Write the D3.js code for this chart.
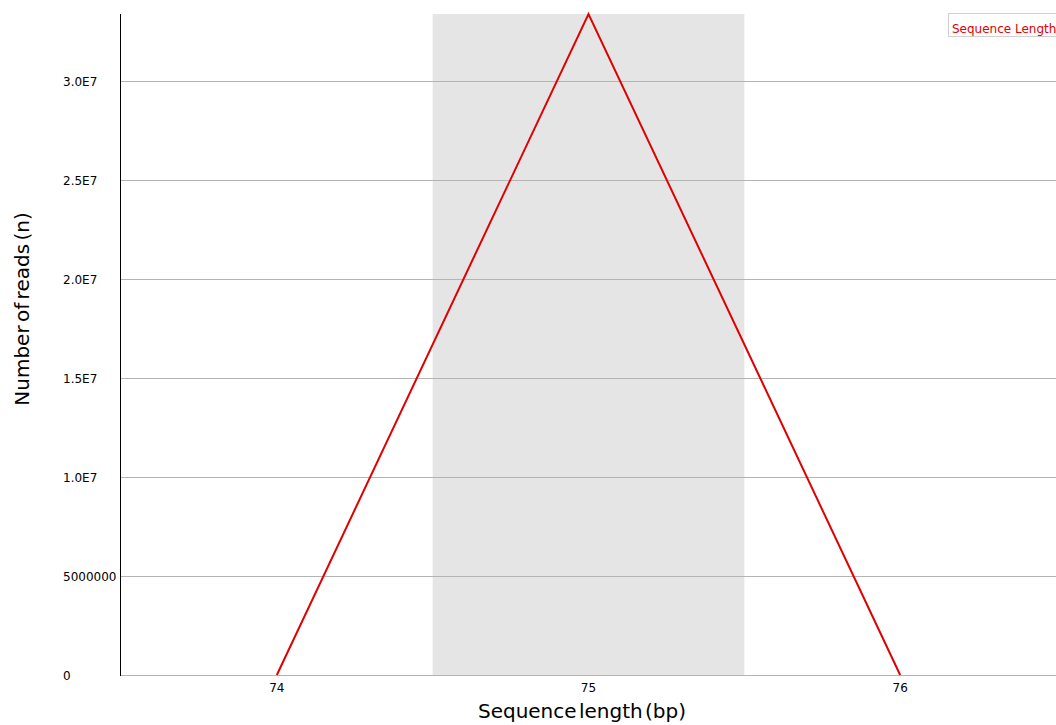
<!DOCTYPE html>
<html>
<head>
<meta charset="utf-8">
<script src="https://cdn.jsdelivr.net/npm/d3@7"></script>
<style>
  body { margin: 0; background: #fff; }
  svg text { font-family: "DejaVu Sans", sans-serif; }
</style>
</head>
<body>
<div id="chart"></div>
<script>
const lengths = ['74', '75', '76'];
const reads = [0, 33380000, 0];
const yTicks = [0, 5000000, 10000000, 15000000, 20000000, 25000000, 30000000];
const yTickLabels = ['0', '5000000', '1.0E7', '1.5E7', '2.0E7', '2.5E7', '3.0E7'];
const seriesName = 'Sequence Length';

const width = 1056;
const height = 725;
const margin = { top: 14, right: 0, bottom: 50, left: 121 };

const svg = d3.select('#chart').append('svg').attr('width', width).attr('height', height);

const x = d3.scaleBand().domain(lengths).range([margin.left, width - margin.right]);
const y = d3.scaleLinear().domain([0, d3.max(reads)]).range([height - margin.bottom, margin.top]);

// alternating shaded band
svg
  .append('g')
  .selectAll('rect')
  .data(lengths.filter((d, i) => i % 2 === 1))
  .join('rect')
  .attr('x', (d) => x(d))
  .attr('y', margin.top)
  .attr('width', x.bandwidth())
  .attr('height', height - margin.bottom - margin.top)
  .attr('fill', '#e5e5e5');

// grid lines
svg
  .append('g')
  .selectAll('line')
  .data(yTicks)
  .join('line')
  .attr('x1', margin.left)
  .attr('x2', width - margin.right)
  .attr('y1', (d) => Math.round(y(d)) + 0.5)
  .attr('y2', (d) => Math.round(y(d)) + 0.5)
  .attr('stroke', '#b4b4b4')
  .attr('stroke-width', 1);

// y axis line
svg
  .append('line')
  .attr('x1', margin.left - 0.5)
  .attr('x2', margin.left - 0.5)
  .attr('y1', margin.top)
  .attr('y2', height - margin.bottom + 1)
  .attr('stroke', '#000');

// y tick labels (left aligned, as in FastQC)
svg
  .append('g')
  .selectAll('text')
  .data(yTicks)
  .join('text')
  .attr('x', 63)
  .attr('y', (d) => y(d) + 5)
  .attr('text-anchor', 'start')
  .attr('font-size', 12)
  .attr('fill', '#000')
  .text((d, i) => yTickLabels[i]);

// x tick labels
svg
  .append('g')
  .selectAll('text')
  .data(lengths)
  .join('text')
  .attr('x', (d) => x(d) + x.bandwidth() / 2)
  .attr('y', 692)
  .attr('text-anchor', 'middle')
  .attr('font-size', 12)
  .attr('fill', '#000')
  .text((d) => d);

// line
const line = d3
  .line()
  .x((d, i) => x(lengths[i]) + x.bandwidth() / 2)
  .y((d) => y(d));

svg
  .append('path')
  .datum(reads)
  .attr('d', line)
  .attr('fill', 'none')
  .attr('stroke', '#e00000')
  .attr('stroke-width', 2);

// axis titles
svg
  .append('text')
  .attr('x', 582)
  .attr('y', 718)
  .attr('text-anchor', 'middle')
  .attr('font-size', 20)
  .attr('word-spacing', -4)
  .attr('font-family', 'Liberation Sans, Arial, sans-serif')
  .text('Sequence length (bp)');

svg
  .append('text')
  .attr('transform', 'translate(29,309) rotate(-90)')
  .attr('text-anchor', 'middle')
  .attr('font-size', 20)
  .attr('word-spacing', -3)
  .attr('font-family', 'Liberation Sans, Arial, sans-serif')
  .text('Number of reads (n)');

// legend
const legend = svg.append('g');
legend
  .append('rect')
  .attr('x', 948.5)
  .attr('y', 13.5)
  .attr('width', 108)
  .attr('height', 23)
  .attr('fill', '#fff')
  .attr('stroke', '#d0d0d0');
legend
  .append('text')
  .attr('x', 952)
  .attr('y', 33)
  .attr('font-size', 12)
  .attr('fill', '#e00000')
  .text(seriesName);
</script>
</body>
</html>
